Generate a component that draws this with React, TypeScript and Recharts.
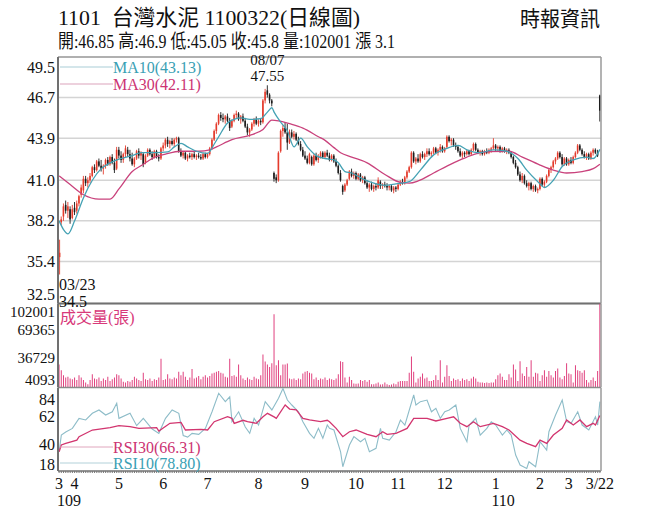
import React from 'react';
import { ComposedChart, Bar, Line, XAxis, YAxis, CartesianGrid, ReferenceLine, ReferenceDot } from 'recharts';

const FONT = "'Liberation Serif', 'Times New Roman', 'Noto Sans CJK TC', serif";
const RED = '#e43b2c';
const BLACK = '#1c1c1c';

// daily candles [open, high, low, close], 2020-03-23 .. 2021-03-22
const candles: number[][] = [
  [35.7,36.9,34.5,36.0],[38.1,38.5,37.9,38.3],[38.5,39.4,38.2,39.2],[39.3,39.6,38.7,38.9],[38.9,39.5,38.4,39.2],
  [39.0,39.2,38.0,38.3],[38.4,39.3,38.3,39.0],[39.1,39.5,38.6,38.8],[38.9,39.6,38.7,39.4],[39.4,40.0,39.2,39.9],
  [40.0,40.7,39.8,40.5],[40.3,41.3,40.1,41.1],[41.1,41.3,40.6,40.8],[40.8,41.2,40.5,41.0],[41.0,41.5,40.8,41.3],
  [41.3,42.0,41.2,41.9],[41.9,42.1,41.5,41.7],[41.7,42.4,41.6,42.3],[42.3,42.5,41.9,42.0],[42.0,42.4,41.6,41.8],
  [41.8,42.1,41.4,42.0],[42.0,42.5,41.8,42.4],[42.4,42.6,42.0,42.1],[42.1,42.7,42.0,42.6],[42.6,42.8,42.1,42.2],
  [42.2,42.5,41.5,41.7],[41.8,43.3,41.7,43.1],[43.1,43.3,42.5,42.7],[42.7,43.0,42.2,42.4],[42.4,42.9,42.2,42.8],
  [42.8,43.4,42.6,43.2],[43.1,43.3,42.6,42.8],[42.8,43.1,42.3,42.5],[42.5,42.9,42.0,42.1],[42.1,42.6,41.9,42.5],
  [42.5,43.1,42.4,43.0],[43.0,43.2,42.5,42.7],[42.7,43.0,42.4,42.9],[42.8,42.9,41.9,42.1],[42.2,42.8,42.1,42.7],
  [42.7,43.2,42.6,43.1],[43.1,43.2,42.7,42.8],[42.8,43.0,42.4,42.6],[42.6,43.1,42.5,43.0],[43.0,43.1,42.5,42.6],
  [42.6,42.8,42.3,42.5],[42.5,43.3,42.4,43.2],[43.2,43.6,43.0,43.4],[43.4,43.9,43.2,43.8],[43.8,44.0,43.3,43.5],
  [43.5,43.8,43.2,43.7],[43.7,43.9,43.4,43.5],[43.5,43.9,43.3,43.8],[43.8,44.0,43.6,43.9],[43.9,44.0,42.9,43.0],
  [43.0,43.2,42.6,42.7],[42.7,43.0,42.5,42.9],[42.9,43.0,42.4,42.5],[42.5,42.8,42.3,42.7],[42.7,42.9,42.5,42.6],
  [42.6,42.9,42.4,42.8],[42.8,43.0,42.5,42.6],[42.6,42.8,42.4,42.7],[42.7,42.9,42.5,42.6],[42.6,42.8,42.4,42.5],
  [42.5,42.9,42.4,42.8],[42.8,42.9,42.5,42.6],[42.6,42.9,42.5,42.8],[42.8,43.3,42.7,43.2],[43.2,43.9,43.1,43.8],
  [43.8,44.5,43.7,44.4],[44.4,45.0,44.2,44.9],[44.9,45.6,44.8,45.5],[45.5,45.7,45.1,45.3],[45.3,45.6,45.0,45.2],
  [45.2,45.5,44.9,45.4],[45.4,45.6,45.0,45.1],[45.1,45.3,44.4,44.6],[44.7,45.2,44.6,45.1],[45.1,45.6,45.0,45.5],
  [45.5,45.8,45.3,45.6],[45.6,45.7,45.1,45.2],[45.2,45.5,44.9,45.4],[45.4,45.6,45.0,45.1],[45.1,45.3,44.6,44.7],
  [44.7,44.9,44.1,44.3],[44.3,44.6,44.0,44.5],[44.5,45.0,44.4,44.9],[44.9,45.3,44.7,45.2],[45.2,45.4,44.8,44.9],
  [44.9,45.2,44.7,45.1],[45.1,45.3,44.8,45.0],[45.0,46.6,44.9,46.5],[46.5,47.3,46.3,47.1],[47.2,47.55,46.7,46.9],
  [46.9,47.0,46.3,46.5],[46.5,46.6,46.1,46.3],[41.5,41.6,40.9,41.1],[41.2,41.4,40.8,41.0],[41.0,43.0,40.9,42.9],
  [43.0,44.5,42.9,44.4],[44.4,44.8,44.0,44.6],[44.6,45.0,44.2,44.3],[44.3,44.9,43.1,43.6],[43.6,44.5,43.5,44.3],
  [44.3,44.5,43.9,44.0],[44.0,44.4,43.8,44.2],[44.2,44.3,43.7,43.8],[43.8,44.0,43.4,43.5],[43.5,43.7,43.0,43.1],
  [43.1,43.3,42.6,42.7],[42.7,43.0,42.4,42.5],[42.5,42.7,42.1,42.2],[42.2,42.9,42.1,42.8],[42.6,42.7,42.0,42.1],
  [42.1,42.8,42.0,42.7],[42.7,42.9,42.3,42.4],[42.4,42.8,42.2,42.6],[42.6,43.0,42.5,42.9],[42.9,43.0,42.5,42.6],
  [42.6,43.0,42.5,42.9],[42.9,43.1,42.6,42.7],[42.7,42.9,42.3,42.4],[42.4,42.8,42.3,42.7],[42.7,42.8,42.2,42.3],
  [42.3,42.5,41.9,42.0],[42.0,42.1,41.4,41.5],[41.5,41.7,40.9,41.0],[40.6,40.7,40.0,40.2],[40.3,40.8,40.2,40.7],
  [40.7,41.1,40.6,41.0],[41.1,41.7,41.0,41.6],[41.6,41.8,41.2,41.3],[41.3,41.6,41.1,41.5],[41.5,41.6,41.0,41.1],
  [41.1,41.5,41.0,41.4],[41.4,41.5,40.9,41.0],[41.0,41.3,40.8,41.2],[41.2,41.3,40.7,40.8],[40.8,41.0,40.4,40.5],
  [40.5,40.8,40.2,40.7],[40.7,40.9,40.3,40.4],[40.4,40.7,40.2,40.6],[40.6,40.8,40.3,40.5],[40.5,41.2,40.4,41.0],
  [40.9,41.0,40.4,40.6],[40.6,40.8,40.4,40.7],[40.7,40.9,40.5,40.6],[40.6,40.8,40.3,40.5],[40.5,40.7,40.3,40.6],
  [40.6,40.7,40.2,40.3],[40.3,40.6,40.1,40.5],[40.5,40.6,40.2,40.4],[40.4,40.8,40.3,40.7],[40.7,41.0,40.6,40.9],
  [40.9,41.1,40.7,40.8],[40.8,41.3,40.7,41.2],[41.2,41.7,41.1,41.6],[41.6,42.0,41.5,41.9],[41.9,43.0,41.8,42.9],
  [42.9,43.0,42.2,42.3],[42.3,42.6,42.1,42.5],[42.5,42.8,42.2,42.3],[42.3,42.9,42.2,42.8],[42.8,43.0,42.5,42.6],
  [42.6,42.9,42.4,42.8],[42.8,43.2,42.6,43.0],[43.0,43.2,42.7,42.8],[42.8,43.0,42.6,42.9],[42.9,43.3,42.8,43.2],
  [43.2,43.3,42.8,42.9],[42.9,43.2,42.7,43.1],[43.1,43.5,42.9,43.3],[43.3,43.4,42.9,43.0],[43.0,43.3,42.9,43.2],
  [43.3,44.1,43.2,44.0],[44.0,44.1,43.6,43.7],[43.7,43.9,43.4,43.8],[43.8,43.9,43.3,43.4],[43.4,43.6,43.1,43.3],
  [43.3,43.4,42.9,43.0],[43.0,43.2,42.6,42.7],[42.7,43.0,42.5,42.9],[42.9,43.0,42.6,42.8],[42.8,43.1,42.7,43.0],
  [43.0,43.1,42.7,42.8],[42.8,43.2,42.7,43.1],[43.1,43.6,43.0,43.5],[43.5,43.6,43.0,43.1],[43.1,43.2,42.8,42.9],
  [42.9,43.1,42.7,43.0],[43.0,43.1,42.7,42.8],[42.8,43.1,42.7,43.0],[43.0,43.2,42.8,42.9],[42.9,43.2,42.8,43.1],
  [43.1,43.3,42.9,43.2],[43.2,43.9,43.1,43.4],[43.4,43.5,43.0,43.2],[43.2,43.4,43.0,43.3],[43.3,43.4,42.9,43.0],
  [43.0,43.3,42.9,43.2],[43.2,43.3,42.9,43.0],[43.0,43.2,42.8,43.1],[43.1,43.2,42.8,42.9],[42.9,43.0,42.5,42.6],
  [42.6,42.7,42.1,42.2],[42.2,42.4,41.8,41.9],[41.9,42.0,41.3,41.4],[41.4,41.6,40.9,41.0],[41.0,41.5,40.8,41.3],
  [41.3,41.4,40.7,40.8],[40.8,41.0,40.5,40.6],[40.6,40.9,40.3,40.8],[40.8,40.9,40.3,40.4],[40.4,40.7,40.2,40.6],
  [40.6,40.7,40.2,40.3],[40.3,40.5,40.1,40.4],[40.4,41.2,40.3,41.1],[41.1,41.2,40.6,40.7],[40.7,41.0,40.5,40.9],
  [40.9,41.4,40.8,41.3],[41.3,41.8,41.2,41.7],[41.7,42.0,41.5,41.9],[41.9,42.4,41.8,42.3],[42.3,42.6,42.1,42.5],
  [42.5,43.0,42.4,42.9],[42.9,43.0,42.5,42.6],[42.6,42.8,42.0,42.1],[42.1,42.6,42.0,42.5],[42.5,42.6,42.0,42.1],
  [42.1,42.5,42.0,42.4],[42.4,42.6,42.1,42.2],[42.2,42.7,42.1,42.6],[42.6,43.0,42.5,42.9],[42.9,43.5,42.8,43.4],
  [43.4,43.5,43.0,43.1],[43.1,43.2,42.7,42.8],[42.8,43.0,42.5,42.6],[42.6,42.9,42.4,42.8],[42.8,42.9,42.4,42.5],
  [42.5,43.0,42.4,42.9],[42.9,43.2,42.7,43.1],[43.1,43.2,42.8,42.9],[42.9,43.1,42.6,42.7],[46.85,46.9,45.05,45.8],
];

// daily volume (張)
const volumes: number[] = [
  28000,21000,15000,12000,13000,11000,10000,12000,9000,15000,
  12000,9000,6000,4000,9000,16000,11000,10000,12000,8000,
  11000,9000,13000,8000,10000,12000,16000,15000,11000,7000,
  6000,8000,7000,9000,13000,11000,9000,8000,18000,10000,
  9000,11000,8000,10000,9000,12000,35000,9000,10000,16000,
  11000,10000,12000,11000,19000,15000,19000,13000,9000,12000,
  22500,11000,12000,14000,10000,13000,15000,12000,14000,17000,
  18000,19000,20000,18000,17000,13000,12000,35000,14000,15000,
  13000,28000,15000,11000,9000,12000,10000,9000,13000,11000,
  10000,15000,40000,31500,28000,25000,29500,89000,27000,33000,
  15000,28000,28000,29000,11000,10000,11000,9000,11000,10000,
  17000,19000,20000,18000,17000,10000,12000,9000,11000,10000,
  12000,9000,11000,10000,9000,11000,16000,32000,31000,12000,
  6000,13000,9000,5000,4500,5000,9000,8000,9000,7000,
  9000,4000,4000,5000,6000,3500,4000,6000,4000,3000,
  3500,5000,4000,7000,8000,8000,8000,8000,18000,37700,
  19000,6000,11000,13000,17000,11000,12000,8000,8000,9000,
  15000,9000,33000,6000,13000,27000,14000,8000,11000,9000,
  10000,8000,11000,9000,10000,8000,11000,13000,11000,7000,
  6000,6000,5500,6000,5500,6000,6000,10000,15000,17000,
  13000,9000,9000,16000,12000,28000,22000,8000,32000,17000,
  14000,25000,13000,33000,13000,18000,17000,8000,15000,21000,
  13000,20000,15000,12000,20000,23000,12000,10000,14000,29500,
  17000,16000,6000,27000,21000,20000,18000,21000,9000,6000,
  9000,12000,8000,20000,102001,
];

// [day index, value] readings of the indicator lines
const ma10Pts: number[][] = [
  [0,38.2],[2,37.6],[4,37.3],[7,38.2],[11,39.8],[15,41.0],[19,41.8],[23,42.2],[28,42.5],[33,42.7],[37,42.9],
  [44,42.9],[49,42.95],[52,43.3],[55,43.55],[58,43.3],[62,43.0],[67,42.85],[70,43.5],[72,44.0],[76,44.95],
  [79,45.2],[82,45.3],[86,45.2],[91,45.25],[94,45.7],[96,46.0],[97,45.7],[100,45.0],[103,44.4],[106,43.3],
  [109,43.9],[112,43.3],[116,42.7],[120,42.5],[124,42.4],[126,42.2],[129,41.6],[132,41.5],[137,41.1],[142,40.8],
  [147,40.65],[152,40.75],[158,40.9],[163,41.7],[169,42.75],[175,43.2],[180,43.4],[184,43.1],[190,42.9],
  [196,43.1],[202,43.0],[207,42.5],[211,41.7],[216,40.9],[219,40.5],[223,41.0],[227,41.95],[232,42.4],
  [238,42.6],[241,42.5],[244,43.13],
];
const ma30Pts: number[][] = [
  [0,41.3],[5,40.7],[11,40.0],[18,39.7],[23,39.7],[27,40.4],[33,41.6],[38,42.1],[42,42.5],[48,42.8],[55,43.0],
  [63,43.0],[68,43.1],[71,43.3],[78,43.8],[86,44.1],[92,44.5],[96,45.15],[99,45.1],[104,44.9],[110,44.6],
  [117,44.0],[120,43.75],[124,43.25],[127,42.9],[132,42.6],[139,42.2],[147,41.4],[154,40.85],[158,40.8],
  [162,40.95],[169,41.5],[178,42.2],[184,42.6],[193,42.97],[203,43.0],[209,42.6],[217,42.05],[223,41.7],
  [229,41.5],[236,41.6],[241,41.8],[244,42.11],
];
const rsi10Pts: number[][] = [
  [0,30.5],[1,47],[3,50],[6,53.6],[9,63.5],[12,61.9],[15,68.5],[18,71.8],[21,66.8],[24,70],[26,78.4],[27,63.5],
  [32,68.5],[35,56.3],[38,63.5],[42,53],[45,48.7],[48,63.5],[51,71.8],[54,68.5],[56,46.6],[58,45],[60,48.7],
  [63,47.7],[66,53.6],[69,70],[72,88.3],[75,80],[77,84.8],[78,60.2],[81,70],[84,55],[86,48.7],[88,63.5],
  [90,56.9],[93,80],[96,71.8],[99,83.3],[101,93],[103,81.6],[105,76.7],[108,70],[110,60.2],[113,48.7],
  [115,43.8],[117,53.6],[119,43.8],[121,56.9],[122,53.6],[124,52],[127,30.5],[128,15.7],[131,37.2],[133,45.4],
  [136,40.4],[138,43.8],[140,30.5],[143,33.9],[145,53.6],[146,43.8],[149,42.1],[152,50.3],[154,61.9],[156,56.9],
  [160,86.6],[161,76.7],[163,80],[166,81.6],[168,70],[170,73.4],[172,63.5],[174,70],[176,71.8],[179,76.7],
  [181,53.6],[184,40.4],[185,56.9],[188,63.5],[190,47],[193,53.6],[195,60.2],[197,56.9],[200,47],[202,52],
  [204,47],[206,27.3],[208,17.4],[211,14.1],[212,20.7],[215,15.7],[217,40.4],[220,32.2],[221,50.3],[224,66.8],
  [227,81.6],[229,60.2],[231,58.6],[234,70],[236,56.9],[239,52],[242,65.1],[243,56.9],[244,80],
];
const rsi30Pts: number[][] = [
  [0,30.5],[1,37.2],[3,38.8],[8,42],[9,45.4],[15,52],[23,54.3],[27,56.3],[32,55.3],[36,53.6],[44,54.3],[45,51],
  [50,58.6],[55,59.6],[57,52],[64,52.7],[67,52],[70,60.2],[76,65.1],[78,63.5],[79,58.6],[83,61.6],[85,60.2],
  [89,58.6],[92,65],[94,68.5],[97,65],[98,63.5],[102,76.7],[104,72.7],[107,71.8],[110,63.5],[113,62],[118,60.2],
  [121,61.6],[122,60.2],[125,53.6],[128,45.4],[131,50.3],[134,52],[139,47.8],[143,45.4],[146,50.3],[148,47.7],
  [152,48.7],[157,53.6],[160,63.5],[166,63.5],[170,60.9],[175,63.5],[178,65.1],[181,58.6],[184,55.3],[187,60.2],
  [190,55.3],[196,58.6],[200,55.3],[203,52],[208,42],[211,38.8],[215,35.5],[217,42],[220,38.8],[223,47],
  [227,53.6],[229,61.9],[232,56.9],[235,61.9],[238,55.3],[241,58.6],[242,56.9],[244,66.31],
];

const priceTicks = [32.5, 35.4, 38.2, 41.0, 43.9, 46.7, 49.5];
const volTicks = [4093, 36729, 69365, 102001];
const rsiTicks = [18, 40, 62, 84];
const monthLabels: Record<number, string> = {
  0: '3', 7: '4', 27: '5', 47: '6', 67: '7', 90: '8', 111: '9', 134: '10', 153: '11', 174: '12', 197: '1', 217: '2', 230: '3', 244: '3/22',
};
const yearLabels: Record<number, string> = { 7: '109', 197: '110' };

const toMap = (pts: number[][]) => {
  const m: Record<number, number> = {};
  pts.forEach(([i, v]) => { m[i] = v; });
  return m;
};
const ma10Map = toMap(ma10Pts);
const ma30Map = toMap(ma30Pts);
const rsi10Map = toMap(rsi10Pts);
const rsi30Map = toMap(rsi30Pts);

const table = candles.map((k, i) => ({
  i,
  o: k[0], h: k[1], l: k[2], c: k[3],
  range: [k[2], k[1]],
  vol: volumes[i],
  ma10: ma10Map[i] ?? null,
  ma30: ma30Map[i] ?? null,
  rsi10: rsi10Map[i] ?? null,
  rsi30: rsi30Map[i] ?? null,
}));

const Candle = (props: any) => {
  const { x, y, width, height, index } = props;
  const d = props.payload && props.payload.o != null ? props.payload : table[index];
  if (!d || !isFinite(x) || !isFinite(y)) return null;
  const top = Math.min(y, y + height);
  const hgt = Math.abs(height);
  const ppu = d.h > d.l ? hgt / (d.h - d.l) : 0;
  const yo = top + (d.h - d.o) * ppu;
  const yc = top + (d.h - d.c) * ppu;
  const color = d.c >= d.o ? RED : BLACK;
  const cx = x + width / 2 + (index === 0 ? 0.6 : 0);
  const bw = Math.max(1.4, width * 0.8);
  const by = Math.min(yo, yc);
  const bh = Math.max(1, Math.abs(yc - yo));
  return (
    <g>
      <line x1={cx} x2={cx} y1={top} y2={top + hgt} stroke={color} strokeWidth={0.9} />
      <rect x={cx - bw / 2} y={by} width={bw} height={bh} fill={color} />
    </g>
  );
};

const makeYTick = (shift: Record<string, number>, size: number, fmt: (v: number) => string) => (props: any) => {
  const { x, y, payload } = props;
  const dy = shift[String(payload.value)] ?? 0;
  return (
    <text x={x} y={y + dy} textAnchor="end" dominantBaseline="central" fontFamily={FONT} fontSize={size} fill="#111">
      {fmt(payload.value)}
    </text>
  );
};
const PriceTick = makeYTick({ '49.5': 10, '32.5': -9 }, 16, (v) => v.toFixed(1));
const VolTick = makeYTick({ '102001': 8, '4093': -4, '36729': 1 }, 15, (v) => String(v));
const RsiTick = makeYTick({ '84': 1.4, '62': -3, '40': 2 }, 16, (v) => String(v));

const XTick = (props: any) => {
  const { x, y, payload } = props;
  const lab = monthLabels[payload.value];
  if (!lab) return null;
  const yr = yearLabels[payload.value];
  const yrDx = payload.value === 7 ? -5.6 : 7.4;
  return (
    <g fontFamily={FONT} fontSize={16} fill="#111">
      <text x={x} y={y + 8} textAnchor="middle" dominantBaseline="central">{lab}</text>
      {yr && <text x={x + yrDx} y={y + 25} textAnchor="middle" dominantBaseline="central">{yr}</text>}
    </g>
  );
};

const PeakLabel = (props: any) => {
  const vb = props.viewBox || {};
  const cx = (vb.x ?? 0) + (vb.width ?? 0) / 2;
  const cy = (vb.y ?? 0) + (vb.height ?? 0) / 2;
  return (
    <g fontFamily={FONT} fontSize={15} fill="#111">
      <text x={cx} y={cy - 25.3} textAnchor="middle" dominantBaseline="central">08/07</text>
      <text x={cx} y={cy - 9.2} textAnchor="middle" dominantBaseline="central">47.55</text>
    </g>
  );
};
const LowLabel = (props: any) => {
  const vb = props.viewBox || {};
  const cx = (vb.x ?? 0) + (vb.width ?? 0) / 2;
  const cy = (vb.y ?? 0) + (vb.height ?? 0) / 2;
  return (
    <g fontFamily={FONT} fontSize={16} fill="#111">
      <text x={cx} y={cy + 9.5} textAnchor="start" dominantBaseline="central">03/23</text>
      <text x={cx} y={cy + 26.5} textAnchor="start" dominantBaseline="central">34.5</text>
    </g>
  );
};

const AXIS = { stroke: '#707070', strokeWidth: 2 };
const RAXIS = { stroke: '#9a9a9a', strokeWidth: 1.5 };

export default function App() {
  return (
    <div style={{ position: 'absolute', left: 0, top: 0, width: 656, height: 525, background: '#fff', overflow: 'hidden' }}>
      <div style={{ position: 'absolute', left: 0, top: 0 }}>
        <ComposedChart width={656} height={310} data={table} margin={{ top: 57, right: 0, bottom: 6.5, left: 0 }} barCategoryGap={0}>
          <CartesianGrid vertical={false} stroke="#d4d4d4" strokeWidth={1.5} />
          <XAxis dataKey="i" hide scale="band" />
          <YAxis width={58} domain={[32.5, 49.5]} ticks={priceTicks} interval={0} tick={<PriceTick />} tickSize={0} tickMargin={3} tickLine={false} axisLine={AXIS} allowDataOverflow />
          <YAxis yAxisId="r" orientation="right" width={55} domain={[0, 1]} tick={false} tickLine={false} axisLine={RAXIS} />
          <ReferenceLine y={49.5} stroke="#a0a0a0" strokeWidth={1.5} />
          <ReferenceLine y={32.5} stroke="#707070" strokeWidth={2} />
          <Bar dataKey="range" shape={<Candle />} isAnimationActive={false} />
          <Line dataKey="ma30" type="monotone" connectNulls dot={false} stroke="#c9427c" strokeWidth={1.3} isAnimationActive={false} />
          <Line dataKey="ma10" type="monotone" connectNulls dot={false} stroke="#45a2b4" strokeWidth={1.3} isAnimationActive={false} />
          <ReferenceDot x={94} y={47.55} r={0.01} fill="none" stroke="none" ifOverflow="visible" label={<PeakLabel />} />
          <ReferenceDot x={0} y={34.5} r={0.01} fill="none" stroke="none" ifOverflow="visible" label={<LowLabel />} />
        </ComposedChart>
      </div>
      <div style={{ position: 'absolute', left: 0, top: 296 }}>
        <ComposedChart width={656} height={96} data={table} margin={{ top: 7.5, right: 0, bottom: 4.5, left: 0 }} barCategoryGap="25%">
          <XAxis dataKey="i" hide scale="band" />
          <YAxis width={58} domain={[0, 102001]} ticks={volTicks} interval={0} tick={<VolTick />} tickSize={0} tickMargin={3} tickLine={false} axisLine={AXIS} allowDataOverflow />
          <YAxis yAxisId="r" orientation="right" width={55} domain={[0, 1]} tick={false} tickLine={false} axisLine={RAXIS} />
          <ReferenceLine y={0} stroke="#8a8a8a" strokeWidth={1.5} />
          <Bar dataKey="vol" fill="#e0407e" isAnimationActive={false} />
        </ComposedChart>
      </div>
      <div style={{ position: 'absolute', left: 0, top: 380 }}>
        <ComposedChart width={656} height={145} data={table} margin={{ top: 8, right: 0, bottom: 4, left: 0 }}>
          <XAxis dataKey="i" scale="band" interval={0} height={50} tick={<XTick />} tickSize={2} tickMargin={2} tickLine={{ stroke: '#777' }} axisLine={{ stroke: '#707070', strokeWidth: 1.5 }} />
          <YAxis width={58} domain={[11.5, 93.5]} ticks={rsiTicks} interval={0} tick={<RsiTick />} tickSize={0} tickMargin={3} tickLine={false} axisLine={AXIS} allowDataOverflow />
          <YAxis yAxisId="r" orientation="right" width={55} domain={[0, 1]} tick={false} tickLine={false} axisLine={RAXIS} />
          <Line dataKey="rsi10" type="linear" connectNulls dot={false} stroke="#8dbcc8" strokeWidth={1.1} isAnimationActive={false} />
          <Line dataKey="rsi30" type="linear" connectNulls dot={false} stroke="#d2356f" strokeWidth={1.3} isAnimationActive={false} />
        </ComposedChart>
      </div>
      <svg width={656} height={525} style={{ position: 'absolute', left: 0, top: 0, pointerEvents: 'none' }} fontFamily={FONT}>
        <text x={58} y={25} fontSize={22} fill="#111" textLength={302} lengthAdjust="spacingAndGlyphs">1101{'\u00A0\u00A0'}台灣水泥 1100322(日線圖)</text>
        <text x={58} y={48} fontSize={19} fill="#111" textLength={337} lengthAdjust="spacingAndGlyphs">開:46.85 高:46.9 低:45.05 收:45.8 量:102001 漲 3.1</text>
        <text x={520} y={26} fontSize={21} fill="#111" textLength={80} lengthAdjust="spacingAndGlyphs">時報資訊</text>
        <line x1={60} x2={113} y1={67} y2={67} stroke="#a9cdd6" strokeWidth={1} />
        <text x={113} y={67} fontSize={16} fill="#3aa0b4" dominantBaseline="central">MA10(43.13)</text>
        <line x1={60} x2={113} y1={84} y2={84} stroke="#dba3bb" strokeWidth={1} />
        <text x={113} y={84} fontSize={16} fill="#cc3372" dominantBaseline="central">MA30(42.11)</text>
        <text x={60} y={317} fontSize={16} fill="#d8397a" dominantBaseline="central">成交量(張)</text>
        <line x1={60} x2={113} y1={447} y2={447} stroke="#e0a6bd" strokeWidth={1} />
        <text x={113} y={447} fontSize={16} fill="#cc3372" dominantBaseline="central">RSI30(66.31)</text>
        <line x1={60} x2={113} y1={463} y2={463} stroke="#b2d1d9" strokeWidth={1} />
        <text x={113} y={463} fontSize={16} fill="#3aa0b4" dominantBaseline="central">RSI10(78.80)</text>
      </svg>
    </div>
  );
}
